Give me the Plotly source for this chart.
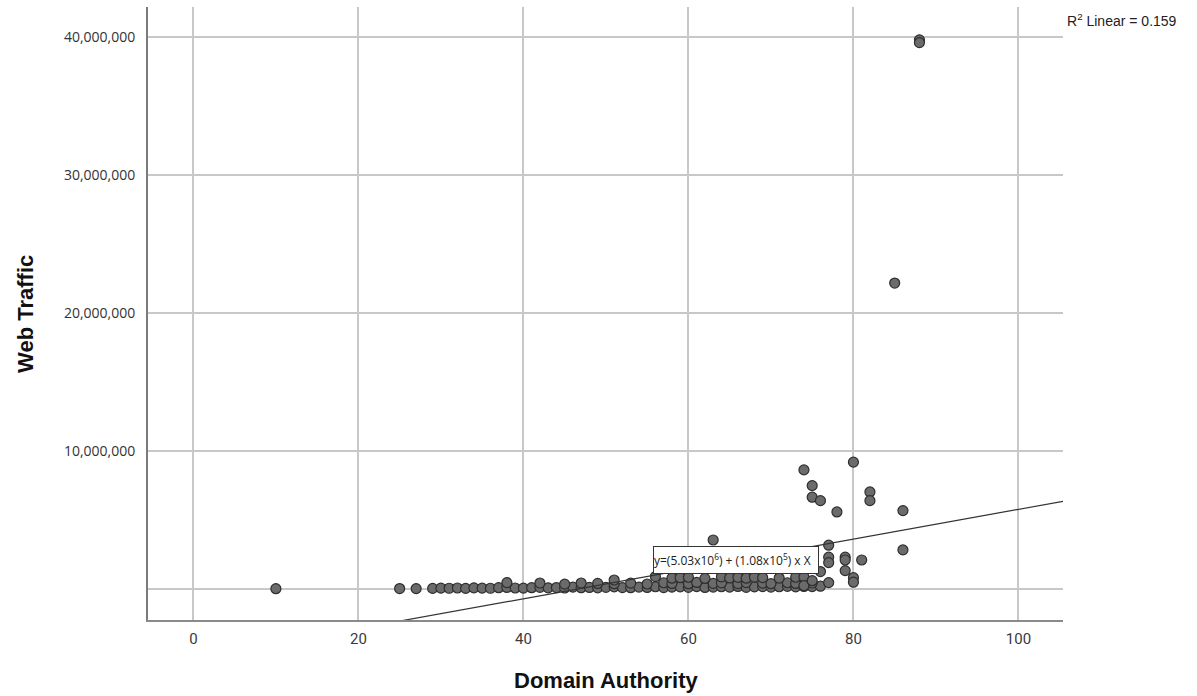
import plotly.graph_objects as go

# Domain Authority (x) and monthly web traffic (y) for each site in the sample
domain_authority = [
    10, 25, 27,
    29, 30, 31, 32, 33, 34, 35, 36, 37, 38, 39, 40, 41, 42, 43, 44, 45, 46,
    47, 48, 49, 50, 51, 52, 53, 54, 55, 56, 57, 58, 59, 60, 61, 62, 63, 64,
    65, 66, 67, 68, 69, 70, 71, 72, 73, 74, 75, 76,
    38, 42, 45, 47, 49, 51, 53, 55, 57, 58, 60, 61, 63, 64, 66, 67, 69, 70,
    72, 73, 75,
    51, 56, 58, 59, 60, 62, 64, 65, 66, 67, 68, 69, 71, 73, 74,
    63, 74, 74, 75, 75, 75, 76, 76, 77, 77, 77, 77, 78, 79, 79, 79, 80, 80,
    80, 81, 82, 82, 85, 86, 86, 88, 88,
]
web_traffic = [
    20000, 30000, 25000,
    40000, 60000, 50000, 70000, 40000, 80000, 60000, 50000, 90000, 110000,
    70000, 60000, 90000, 120000, 80000, 100000, 70000, 130000, 90000, 110000,
    80000, 120000, 150000, 100000, 90000, 140000, 110000, 160000, 100000,
    130000, 150000, 120000, 170000, 110000, 140000, 160000, 130000, 180000,
    120000, 150000, 170000, 140000, 160000, 190000, 150000, 180000, 170000,
    200000,
    460000, 430000, 350000, 430000, 400000, 380000, 420000, 360000, 450000,
    400000, 380000, 470000, 410000, 440000, 390000, 460000, 420000, 380000,
    450000, 400000, 430000,
    650000, 900000, 780000, 820000, 850000, 760000, 880000, 800000, 840000,
    780000, 860000, 820000, 790000, 850000, 870000,
    3550000, 8630000, 240000, 7490000, 6650000, 600000, 6400000, 1260000,
    3170000, 2300000, 1910000, 460000, 5580000, 2300000, 2100000, 1330000,
    9190000, 820000, 490000, 2100000, 7030000, 6400000, 22170000, 5680000,
    2830000, 39800000, 39600000,
]

# Linear fit reported for the sample
fit_intercept = -5.03e6
fit_slope = 1.08e5
r_squared = 0.159

x_range = [-5.5, 105.4]
y_range = [-2.25e6, 42.18e6]
x_ticks = [0, 20, 40, 60, 80, 100]
y_ticks = [0, 10_000_000, 20_000_000, 30_000_000, 40_000_000]
y_tick_text = ["", "10,000,000", "20,000,000", "30,000,000", "40,000,000"]

fit_x = x_range
fit_y = [fit_intercept + fit_slope * v for v in fit_x]

fig = go.Figure()
fig.add_trace(go.Scatter(
    x=domain_authority, y=web_traffic, mode="markers",
    marker=dict(size=10, color="#6b6b6b",
                line=dict(color="#2e2e2e", width=1.2)),
    hoverinfo="x+y", showlegend=False,
))
fig.add_trace(go.Scatter(
    x=fit_x, y=fit_y, mode="lines",
    line=dict(color="#333333", width=1.2),
    hoverinfo="skip", showlegend=False,
))

fig.update_layout(
    width=1197, height=696,
    margin=dict(l=148, r=134, t=7, b=76),
    paper_bgcolor="white", plot_bgcolor="white",
    font=dict(family="Open Sans, sans-serif", color="#333333"),
    xaxis=dict(
        range=x_range, tickvals=x_ticks, showgrid=True,
        gridcolor="#c8c8c8", gridwidth=1.8, zeroline=False,
        showline=True, linecolor="#8a8a8a", linewidth=2,
        ticks="", ticklabelstandoff=4,
        tickfont=dict(family="Roboto, sans-serif", size=15, color="#3a3a3a"),
    ),
    yaxis=dict(
        range=y_range, tickvals=y_ticks, ticktext=y_tick_text,
        showgrid=True, gridcolor="#c8c8c8", gridwidth=1.8, zeroline=False,
        showline=True, linecolor="#7a7a7a", linewidth=2,
        ticks="", ticklabelstandoff=8,
        tickfont=dict(family="Open Sans, sans-serif", size=14, color="#333333"),
    ),
    annotations=[
        dict(text="<b>Domain Authority</b>", xref="paper", yref="paper",
             x=0.5, y=-0.098, xanchor="center", yanchor="middle",
             showarrow=False,
             font=dict(family="Liberation Sans, Arial, sans-serif",
                       size=22, color="#111111")),
        dict(text="<b>Web Traffic</b>", xref="paper", yref="paper",
             x=-0.134, y=0.5, xanchor="center", yanchor="middle",
             textangle=-90, showarrow=False,
             font=dict(family="Liberation Sans, Arial, sans-serif",
                       size=22, color="#111111")),
        dict(text=f"R<sup>2</sup> Linear = {r_squared}",
             xref="paper", yref="paper", x=1.002, y=0.979,
             xanchor="left", yanchor="middle", showarrow=False,
             font=dict(family="Liberation Sans, Arial, sans-serif",
                       size=14, color="#222222")),
        dict(text="y=(5.03x10<sup>6</sup>) + (1.08x10<sup>5</sup>) x X",
             xref="x", yref="y", x=65.8, y=2.1e6,
             xanchor="center", yanchor="middle", showarrow=False,
             align="left", width=164, height=26,
             bgcolor="white", bordercolor="#333333", borderwidth=1,
             borderpad=0,
             font=dict(family="Open Sans, sans-serif", size=12,
                       color="#222222")),
    ],
)

fig.write_html("out.html")
